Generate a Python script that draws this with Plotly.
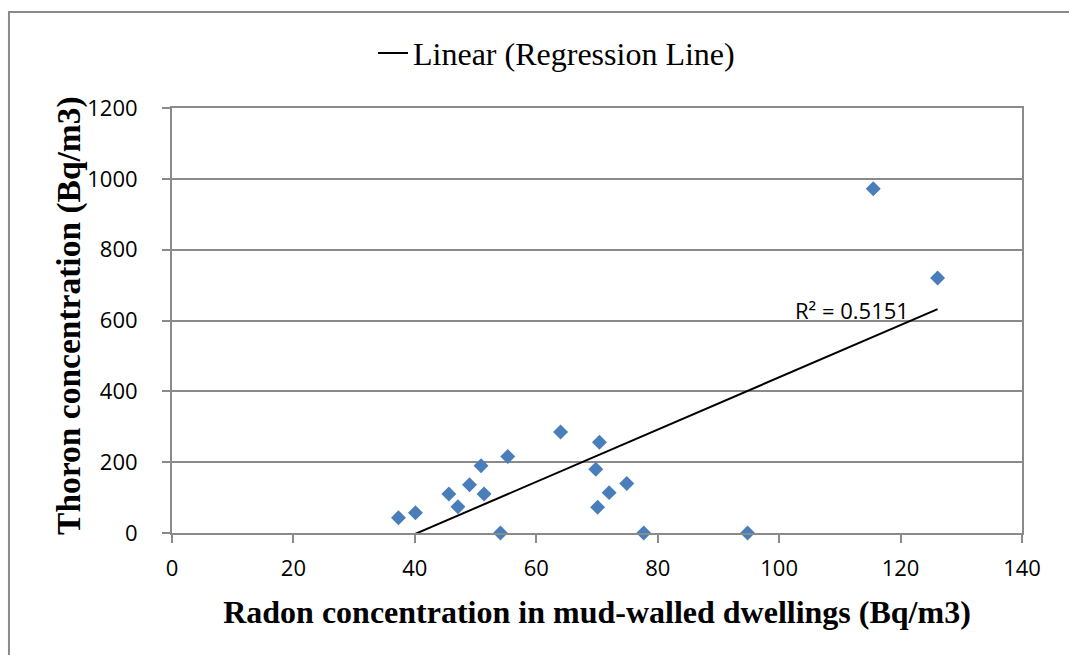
import numpy as np
import plotly.graph_objects as go

# Data
radon = [37.3, 40.1, 45.6, 47.1, 49.0, 50.9, 51.4, 54.1, 55.3, 64.0,
         70.4, 69.8, 70.1, 72.0, 74.9, 77.7, 94.8, 115.5, 126.1]
thoron = [43, 57, 110, 74, 136, 190, 110, 0, 216, 285,
          256, 180, 73, 114, 140, 0, 0, 972, 720]
x_ticks = [0, 20, 40, 60, 80, 100, 120, 140]
y_ticks = [0, 200, 400, 600, 800, 1000, 1200]
r2_label = "R² = 0.5151"
legend_label = "Linear (Regression Line)"
x_title = "Radon concentration in mud-walled dwellings (Bq/m3)"
y_title = "Thoron concentration (Bq/m3)"

slope, intercept = np.polyfit(radon, thoron, 1)
line_x = [min(radon), max(radon)]
line_y = [slope * v + intercept for v in line_x]

GRAY = "#8a8a8a"
TICKFONT = dict(family="Open Sans", size=22, color="black")
TITLEFONT = dict(family="Liberation Serif", size=32, color="black")

fig = go.Figure()
fig.add_trace(go.Scatter(
    x=radon, y=thoron, mode="markers",
    marker=dict(symbol="diamond", size=11.5, color="#4A7EBB", line=dict(width=0)),
    cliponaxis=False, showlegend=False, name="Data"))
fig.add_trace(go.Scatter(
    x=line_x, y=line_y, mode="lines",
    line=dict(color="black", width=2),
    name=legend_label, showlegend=True))

fig.add_annotation(x=112, y=630, xref="x", yref="y", text=r2_label,
                   showarrow=False, font=dict(family="Open Sans", size=22, color="black"))

# y-axis title
fig.add_annotation(x=-0.1212, y=0.513, xref="paper", yref="paper",
                   xanchor="center", yanchor="middle", textangle=-90,
                   text="<b>" + y_title + "</b>", showarrow=False,
                   font=dict(family="Liberation Serif", size=33.5, color="black"))

# outer chart border
fig.add_shape(type="rect", xref="paper", yref="paper",
              x0=-0.1918, x1=1.1, y0=-0.4, y1=1.2259,
              line=dict(color=GRAY, width=2), fillcolor="rgba(0,0,0,0)", layer="below")

fig.update_layout(
    width=1069, height=655,
    margin=dict(l=172, r=47, t=108, b=122),
    paper_bgcolor="white", plot_bgcolor="white",
    showlegend=True,
    legend=dict(orientation="h", x=0.2365, xanchor="left", y=1.129, yanchor="middle",
                font=dict(family="Liberation Serif", size=32, color="black"),
                bgcolor="rgba(0,0,0,0)", itemwidth=30),
    xaxis=dict(range=[0, 140], tickvals=x_ticks, ticktext=[str(v) for v in x_ticks],
               showgrid=False, zeroline=False, showline=True, linecolor=GRAY, linewidth=2,
               mirror=True, ticks="outside", ticklen=8, tickcolor=GRAY, tickwidth=2,
               tickfont=TICKFONT, ticklabelstandoff=7,
               title=dict(text="<b>" + x_title + "</b>", font=TITLEFONT, standoff=19)),
    yaxis=dict(range=[0, 1200], tickvals=y_ticks, ticktext=[str(v) for v in y_ticks],
               showgrid=True, gridcolor=GRAY, gridwidth=2, zeroline=False,
               showline=True, linecolor=GRAY, linewidth=2, mirror=True,
               ticks="outside", ticklen=8, tickcolor=GRAY, tickwidth=2,
               tickfont=TICKFONT, ticklabelstandoff=20),
)

fig.write_html("out.html")
